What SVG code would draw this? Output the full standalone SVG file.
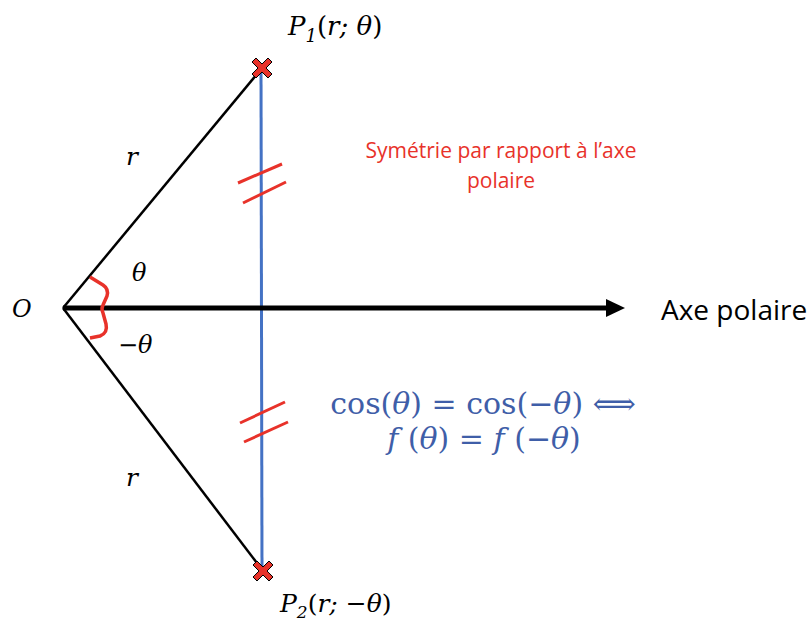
<svg xmlns="http://www.w3.org/2000/svg" width="812" height="623" viewBox="0 0 812 623">
<style>
.m{font-family:"DejaVu Serif","Liberation Serif",serif;font-style:italic;fill:#000}
.lbl{font-family:"Open Sans","Liberation Sans",sans-serif}
.tick{stroke:#e8322a;stroke-width:3;stroke-linecap:butt}
.ray{stroke:#000;stroke-width:2.5;fill:none}
</style>
<defs>
<path id="cross" d="M-10,-6L-6,-10L0,-4L6,-10L10,-6L4,0L10,6L6,10L0,4L-6,10L-10,6L-4,0z" fill="#e8322a" stroke="#000" stroke-width="1"/>
</defs>
<rect width="812" height="623" fill="#fff"/>
<g id="connectors">
<line class="ray" x1="63" y1="308" x2="262" y2="68"/>
<line class="ray" x1="63" y1="308" x2="263" y2="571"/>
<line x1="261" y1="68" x2="262" y2="571" stroke="#4472c4" stroke-width="3"/>
<line x1="63" y1="308" x2="608" y2="308" stroke="#000" stroke-width="5"/>
<path d="M606,299L625,308L606,317z" fill="#000"/>
<line class="tick" x1="238" y1="183" x2="282" y2="164"/>
<line class="tick" x1="243" y1="203" x2="286" y2="182"/>
<line class="tick" x1="240" y1="423" x2="285" y2="402"/>
<line class="tick" x1="244" y1="442" x2="288" y2="422"/>
<path d="M90,277 L103,285 Q109,289 107,296 L103,305 Q101,309 103,313 L106,324 Q108,333 100,336 L90,338" fill="none" stroke="#e8322a" stroke-width="3.5" stroke-linejoin="round"/>
</g>
<g id="P1">
<use href="#cross" x="262" y="68"/>
<text class="m" x="288" y="35" font-size="26">P<tspan font-size="18" dy="7">1</tspan><tspan dy="-7" font-style="normal">(</tspan>r;<tspan font-style="normal"> </tspan>θ<tspan font-style="normal">)</tspan></text>
</g>
<g id="P2">
<use href="#cross" x="263" y="571"/>
<text class="m" x="280" y="612" font-size="25">P<tspan font-size="17" dy="6">2</tspan><tspan dy="-6" font-style="normal">(</tspan>r;<tspan font-style="normal"> −</tspan>θ<tspan font-style="normal">)</tspan></text>
</g>
<g id="O">
<text class="m" x="12" y="317" font-size="24">O</text>
</g>
<g id="labels">
<text class="m" x="126" y="165" font-size="25">r</text>
<text class="m" x="126" y="486" font-size="25">r</text>
<text class="m" x="132" y="281" font-size="24">θ</text>
<text class="m" x="118" y="353" font-size="24"><tspan font-style="normal">−</tspan>θ</text>
</g>
<g id="symetrie">
<text class="lbl" x="501" y="158" font-size="21" fill="#e8322a" text-anchor="middle">Symétrie par rapport à l’axe</text>
<text class="lbl" x="501" y="188" font-size="21" fill="#e8322a" text-anchor="middle">polaire</text>
</g>
<g id="axe">
<text class="lbl" x="661" y="320" font-size="28" fill="#000">Axe polaire</text>
</g>
<g id="equation" fill="#3f5ea8" font-family="'DejaVu Serif','Liberation Serif',serif" font-size="30" text-anchor="middle">
<text x="483" y="414">cos(<tspan font-style="italic">θ</tspan>) = cos(−<tspan font-style="italic">θ</tspan>) ⟺</text>
<text x="484" y="449"><tspan font-style="italic">f</tspan> (<tspan font-style="italic">θ</tspan>) = <tspan font-style="italic">f</tspan> (−<tspan font-style="italic">θ</tspan>)</text>
</g>
</svg>
